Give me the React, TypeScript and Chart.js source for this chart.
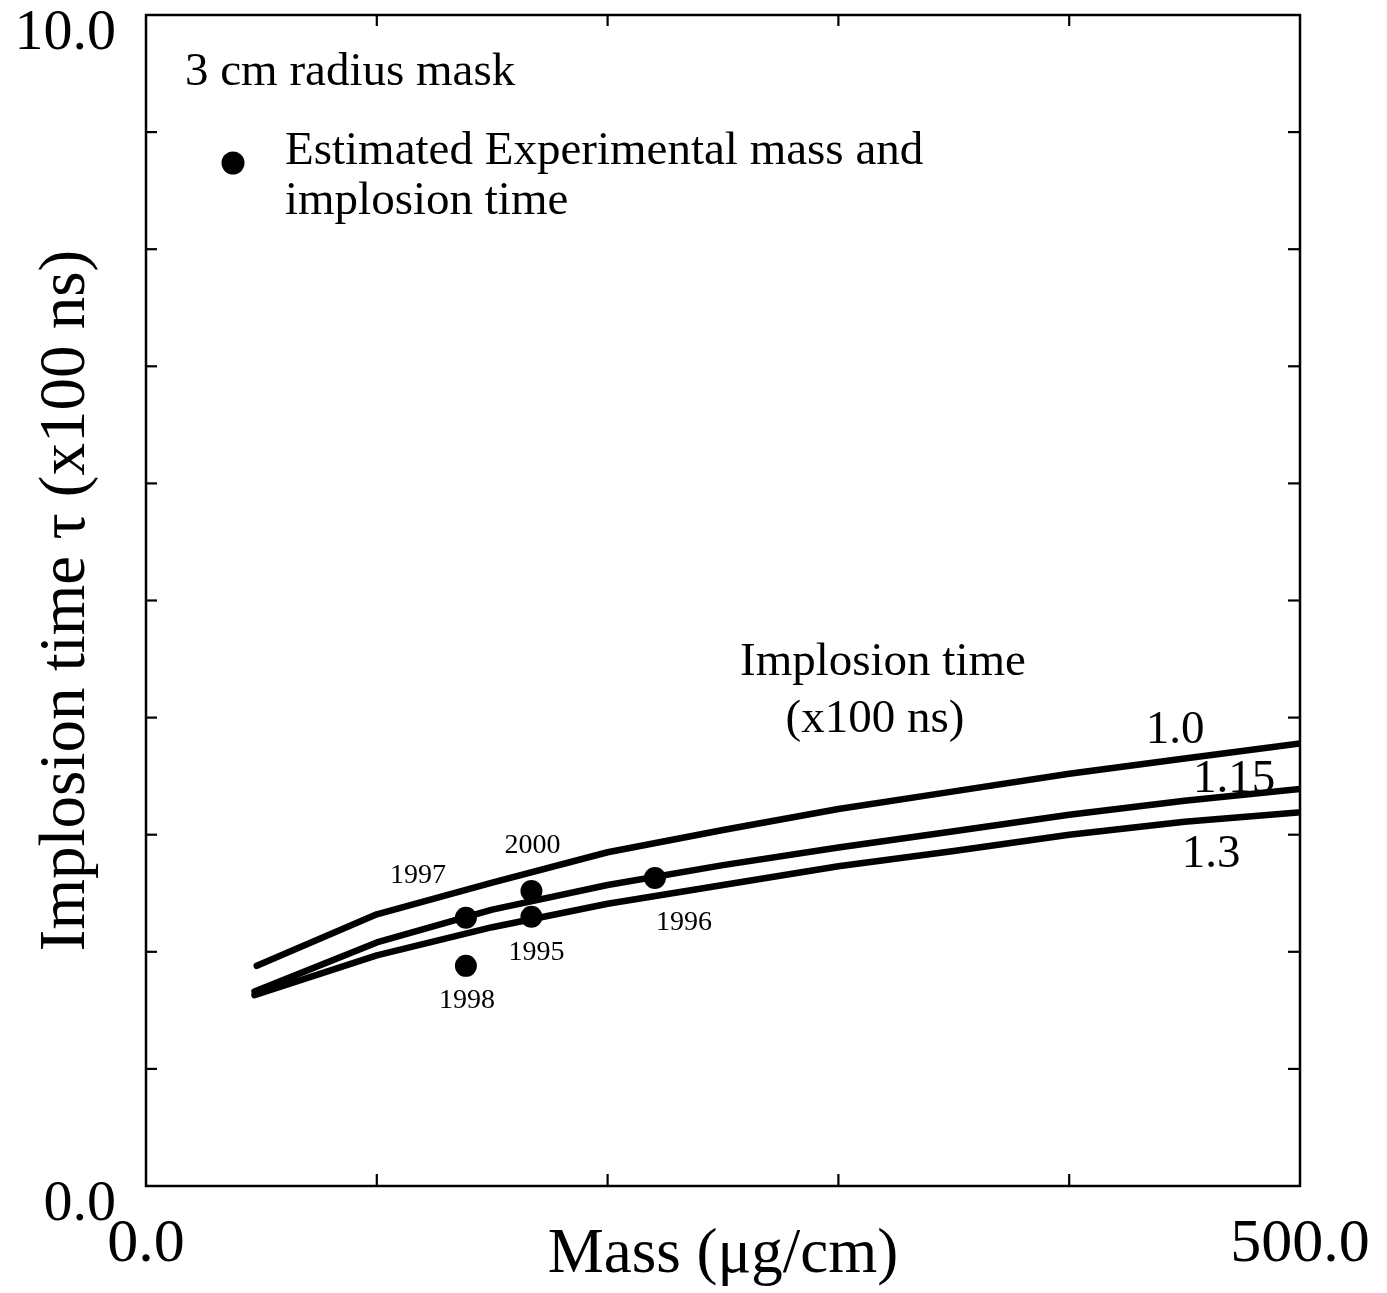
import { useEffect, useRef } from "react";
import { Chart, registerables } from "chart.js";

Chart.register(...registerables);

// ---- Data ----
const massCurve10 = [48, 100, 150, 200, 250, 300, 350, 400, 450, 500];
const tauCurve10 = [1.88, 2.32, 2.59, 2.85, 3.04, 3.22, 3.37, 3.52, 3.65, 3.78];

const massCurve115 = [47, 100, 150, 200, 250, 300, 350, 400, 450, 500];
const tauCurve115 = [1.66, 2.08, 2.36, 2.57, 2.74, 2.89, 3.03, 3.17, 3.29, 3.39];

const massCurve130 = [47, 100, 150, 200, 250, 300, 350, 400, 450, 499];
const tauCurve130 = [1.63, 1.97, 2.21, 2.41, 2.57, 2.73, 2.86, 3.0, 3.11, 3.19];

const curveNames = ["1.0", "1.15", "1.3"];

const expYears = ["1997", "1998", "2000", "1995", "1996"];
const expMass = [138.6, 138.6, 167, 167, 220.5];
const expTau = [2.29, 1.88, 2.52, 2.3, 2.63];

const xTickValues = [0, 500];
const yTickValues = [0, 10];

// ---- Text placement (pixels) ----
const yearLabelOffsets = [
  [-48, -35],
  [1, 42],
  [1, -38],
  [5, 43],
  [29, 52],
];
const curveLabelPos = [
  [1175, 743],
  [1234, 792],
  [1211, 867],
];

const FONT = '"Liberation Serif", "Times New Roman", serif';

const toPts = (xs: number[], ys: number[]) => xs.map((x, i) => ({ x, y: ys[i] }));

const decorPlugin = {
  id: "decor",
  beforeDraw(chart: any) {
    const { ctx, width, height } = chart;
    ctx.save();
    ctx.fillStyle = "#fff";
    ctx.fillRect(0, 0, width, height);
    ctx.restore();
  },
  afterDraw(chart: any) {
    const { ctx, chartArea, scales } = chart;
    const { left, top, right, bottom } = chartArea;
    const xs = scales.x;
    const ys = scales.y;
    ctx.save();
    ctx.strokeStyle = "#000";
    ctx.lineWidth = 2.5;
    ctx.strokeRect(left, top, right - left, bottom - top);

    ctx.lineWidth = 2.2;
    const line = (x1: number, y1: number, x2: number, y2: number) => {
      ctx.beginPath();
      ctx.moveTo(x1, y1);
      ctx.lineTo(x2, y2);
      ctx.stroke();
    };
    xs.ticks.forEach((t: any) => {
      if (t.value <= xs.min || t.value >= xs.max) return;
      const px = xs.getPixelForValue(t.value);
      line(px, bottom, px, bottom - 12);
      line(px, top, px, top + 11);
    });
    ys.ticks.forEach((t: any) => {
      if (t.value <= ys.min || t.value >= ys.max) return;
      const py = ys.getPixelForValue(t.value);
      line(left, py, left + 11, py);
      line(right, py, right - 12, py);
    });

    ctx.fillStyle = "#000";
    ctx.textBaseline = "alphabetic";
    ctx.font = `47px ${FONT}`;
    ctx.textAlign = "left";
    ctx.fillText("3 cm radius mask", 185, 85);
    ctx.beginPath();
    ctx.arc(233, 163, 11.5, 0, Math.PI * 2);
    ctx.fill();
    ctx.fillText("Estimated Experimental mass and", 285, 164);
    ctx.fillText("implosion time", 285, 214);
    ctx.fillText("Implosion time", 740, 675);
    ctx.textAlign = "center";
    ctx.fillText("(x100 ns)", 875, 732);
    curveNames.forEach((n, i) => {
      ctx.fillText(n, curveLabelPos[i][0], curveLabelPos[i][1]);
    });

    ctx.font = `28px ${FONT}`;
    expYears.forEach((yr, i) => {
      const px = xs.getPixelForValue(expMass[i]);
      const py = ys.getPixelForValue(expTau[i]);
      ctx.fillText(yr, px + yearLabelOffsets[i][0], py + yearLabelOffsets[i][1]);
    });
    ctx.restore();
  },
};

export default function App() {
  const ref = useRef<HTMLCanvasElement>(null);

  useEffect(() => {
    const curveStyle = {
      showLine: true,
      borderColor: "#000",
      borderWidth: 6.5,
      pointRadius: 0,
      borderCapStyle: "round" as const,
      borderJoinStyle: "round" as const,
      tension: 0,
    };
    const chart = new Chart(ref.current!, {
      type: "scatter",
      data: {
        datasets: [
          { label: curveNames[0], data: toPts(massCurve10, tauCurve10), ...curveStyle },
          { label: curveNames[1], data: toPts(massCurve115, tauCurve115), ...curveStyle },
          { label: curveNames[2], data: toPts(massCurve130, tauCurve130), ...curveStyle },
          {
            label: "Estimated Experimental mass and implosion time",
            data: toPts(expMass, expTau),
            showLine: false,
            pointRadius: 11,
            pointBackgroundColor: "#000",
            pointBorderWidth: 0,
            borderColor: "#000",
          },
        ],
      },
      options: {
        animation: false,
        responsive: false,
        maintainAspectRatio: false,
        layout: { padding: { left: 0, top: 15, right: 87, bottom: 0 } },
        plugins: { legend: { display: false }, tooltip: { enabled: false } },
        scales: {
          x: {
            type: "linear",
            min: 0,
            max: 500,
            ticks: {
              stepSize: 100,
              autoSkip: false,
              maxRotation: 0,
              padding: 22,
              color: "#000",
              font: { family: FONT, size: 62 },
              callback: (v: any) => (xTickValues.includes(Number(v)) ? Number(v).toFixed(1) : ""),
            },
            grid: { display: false, drawTicks: false, tickLength: 0 },
            border: { display: false },
            title: {
              display: true,
              text: "Mass (μg/cm)",
              color: "#000",
              font: { family: FONT, size: 63 },
              padding: { top: 0, bottom: 0 },
            },
            afterFit(s: any) {
              s.height = 107;
              s.paddingLeft = 0;
              s.paddingRight = 0;
            },
          },
          y: {
            type: "linear",
            min: 0,
            max: 10,
            ticks: {
              stepSize: 1,
              autoSkip: false,
              padding: 30,
              labelOffset: 19,
              color: "#000",
              font: { family: FONT, size: 58 },
              callback: (v: any) => (yTickValues.includes(Number(v)) ? Number(v).toFixed(1) : ""),
            },
            grid: { display: false, drawTicks: false, tickLength: 0 },
            border: { display: false },
            title: {
              display: true,
              text: "Implosion time τ (x100 ns)",
              color: "#000",
              font: { family: FONT, size: 65 },
              padding: { top: 28, bottom: 0 },
            },
            afterFit(s: any) {
              s.width = 146;
              s.paddingTop = 0;
              s.paddingBottom = 0;
            },
          },
        },
      },
      plugins: [decorPlugin],
    });
    return () => chart.destroy();
  }, []);

  return (
    <div style={{ position: "absolute", left: 0, top: 0, width: 1387, height: 1293 }}>
      <canvas ref={ref} width={1387} height={1293} style={{ display: "block", width: 1387, height: 1293 }} />
    </div>
  );
}
